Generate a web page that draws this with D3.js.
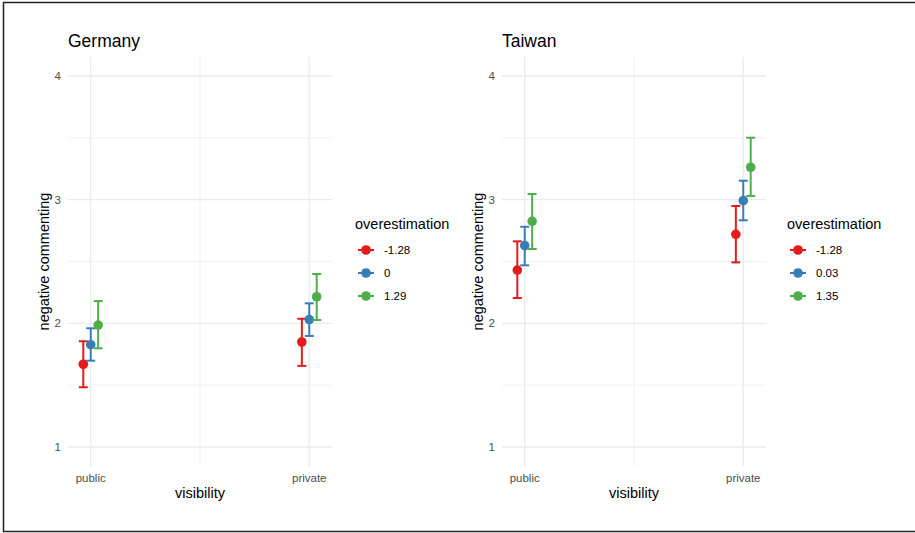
<!DOCTYPE html>
<html>
<head>
<meta charset="utf-8">
<script src="https://cdn.jsdelivr.net/npm/d3@7"></script>
<style>
  body { margin: 0; background: #fff; }
  text { font-family: "Liberation Sans", Arial, sans-serif; }
</style>
</head>
<body>
<div id="chart"></div>
<script>
// data
const visibility = ["public", "private"];
const levels = ["low", "mid", "high"];
const colors = ["#e41a1c", "#377eb8", "#4daf4a"];

const germanyLabels = ["-1.28", "0", "1.29"];
const germanyFit = [[1.669, 1.849], [1.827, 2.03], [1.986, 2.215]];
const germanyLow = [[1.483, 1.656], [1.698, 1.898], [1.798, 2.027]];
const germanyHigh = [[1.855, 2.037], [1.96, 2.162], [2.18, 2.399]];

const taiwanLabels = ["-1.28", "0.03", "1.35"];
const taiwanFit = [[2.431, 2.72], [2.628, 2.992], [2.825, 3.262]];
const taiwanLow = [[2.205, 2.493], [2.469, 2.833], [2.601, 3.03]];
const taiwanHigh = [[2.663, 2.949], [2.781, 3.153], [3.046, 3.501]];

const yTicks = [1, 2, 3, 4];
const yMinor = [1.5, 2.5, 3.5];

const width = 915, height = 533;

const svg = d3.select("#chart").append("svg")
	.attr("width", width)
	.attr("height", height);

svg.append("rect")
	.attr("x", 3.5).attr("y", 2.5)
	.attr("width", width).attr("height", 529)
	.attr("fill", "none")
	.attr("stroke", "#222")
	.attr("stroke-width", 1.5);

function panel(opts) {
	const g = svg.append("g");
	const x = d3.scaleLinear().domain([0.896, 2.104]).range([opts.left, opts.left + 264]);
	const y = d3.scaleLinear().domain([1, 4]).range([447, 76]);
	const dodge = 0.034;
	const grid = "#ebebeb";

	// grid
	g.selectAll(".ymin").data(yMinor).enter().append("line")
		.attr("x1", x.range()[0]).attr("x2", x.range()[1])
		.attr("y1", y).attr("y2", y)
		.attr("stroke", grid).attr("stroke-width", 0.7);
	g.selectAll(".ymaj").data(yTicks).enter().append("line")
		.attr("x1", x.range()[0]).attr("x2", x.range()[1])
		.attr("y1", y).attr("y2", y)
		.attr("stroke", grid).attr("stroke-width", 1.3);
	g.selectAll(".xmaj").data([1, 1.5, 2]).enter().append("line")
		.attr("x1", x).attr("x2", x)
		.attr("y1", 57).attr("y2", 466)
		.attr("stroke", grid).attr("stroke-width", (d) => d === 1.5 ? 0.7 : 1.3);

	// tick labels
	g.selectAll(".ylab").data(yTicks).enter().append("text")
		.attr("x", x.range()[0] - 7).attr("y", (d) => y(d) + 4)
		.attr("text-anchor", "end")
		.attr("font-size", 11.5).attr("fill", "#4d4d4d")
		.text((d) => d);
	g.selectAll(".xlab").data(visibility).enter().append("text")
		.attr("x", (d, i) => x(i + 1)).attr("y", 482)
		.attr("text-anchor", "middle")
		.attr("font-size", 11.5).attr("fill", "#4d4d4d")
		.text((d) => d);

	// titles
	g.append("text")
		.attr("x", x.range()[0]).attr("y", 47)
		.attr("font-size", 17.5).attr("fill", "#000")
		.text(opts.title);
	g.append("text")
		.attr("x", (x.range()[0] + x.range()[1]) / 2).attr("y", 498)
		.attr("text-anchor", "middle")
		.attr("font-size", 14.5).attr("fill", "#000")
		.text("visibility");
	g.append("text")
		.attr("transform", `translate(${x.range()[0] - 19},${(y(1) + y(4)) / 2}) rotate(-90)`)
		.attr("text-anchor", "middle")
		.attr("font-size", 14.5).attr("fill", "#000")
		.text("negative commenting");

	// error bars and points
	levels.forEach((lev, k) => {
		const pts = visibility.map((v, i) => ({
			x: i + 1 + (k - 1) * dodge,
			fit: opts.fit[k][i], lo: opts.low[k][i], hi: opts.high[k][i]
		}));
		const s = g.append("g").attr("stroke", colors[k]).attr("fill", colors[k]);
		s.selectAll(".v").data(pts).enter().append("line")
			.attr("x1", (d) => x(d.x)).attr("x2", (d) => x(d.x))
			.attr("y1", (d) => y(d.lo)).attr("y2", (d) => y(d.hi))
			.attr("stroke-width", 2);
		s.selectAll(".t").data(pts).enter().append("line")
			.attr("x1", (d) => x(d.x) - 4.5).attr("x2", (d) => x(d.x) + 4.5)
			.attr("y1", (d) => y(d.hi)).attr("y2", (d) => y(d.hi))
			.attr("stroke-width", 2);
		s.selectAll(".b").data(pts).enter().append("line")
			.attr("x1", (d) => x(d.x) - 4.5).attr("x2", (d) => x(d.x) + 4.5)
			.attr("y1", (d) => y(d.lo)).attr("y2", (d) => y(d.lo))
			.attr("stroke-width", 2);
		s.selectAll("circle").data(pts).enter().append("circle")
			.attr("cx", (d) => x(d.x)).attr("cy", (d) => y(d.fit))
			.attr("r", 4.8).attr("stroke", "none");
	});

	// legend
	const lx = opts.legendX;
	g.append("text")
		.attr("x", lx).attr("y", 229)
		.attr("font-size", 14.5).attr("fill", "#000")
		.text("overestimation");
	const items = g.selectAll(".leg").data(opts.labels).enter().append("g")
		.attr("transform", (d, i) => `translate(${lx},${250 + i * 23})`);
	items.append("line")
		.attr("x1", 3).attr("x2", 19).attr("y1", 0).attr("y2", 0)
		.attr("stroke", (d, i) => colors[i]).attr("stroke-width", 2);
	items.append("circle")
		.attr("cx", 11).attr("cy", 0).attr("r", 4.8)
		.attr("fill", (d, i) => colors[i]);
	items.append("text")
		.attr("x", 29).attr("y", 4)
		.attr("font-size", 11.5).attr("fill", "#000")
		.text((d) => d);
}

panel({ title: "Germany", left: 68, legendX: 355,
	labels: germanyLabels, fit: germanyFit, low: germanyLow, high: germanyHigh });
panel({ title: "Taiwan", left: 502, legendX: 787,
	labels: taiwanLabels, fit: taiwanFit, low: taiwanLow, high: taiwanHigh });
</script>
</body>
</html>
